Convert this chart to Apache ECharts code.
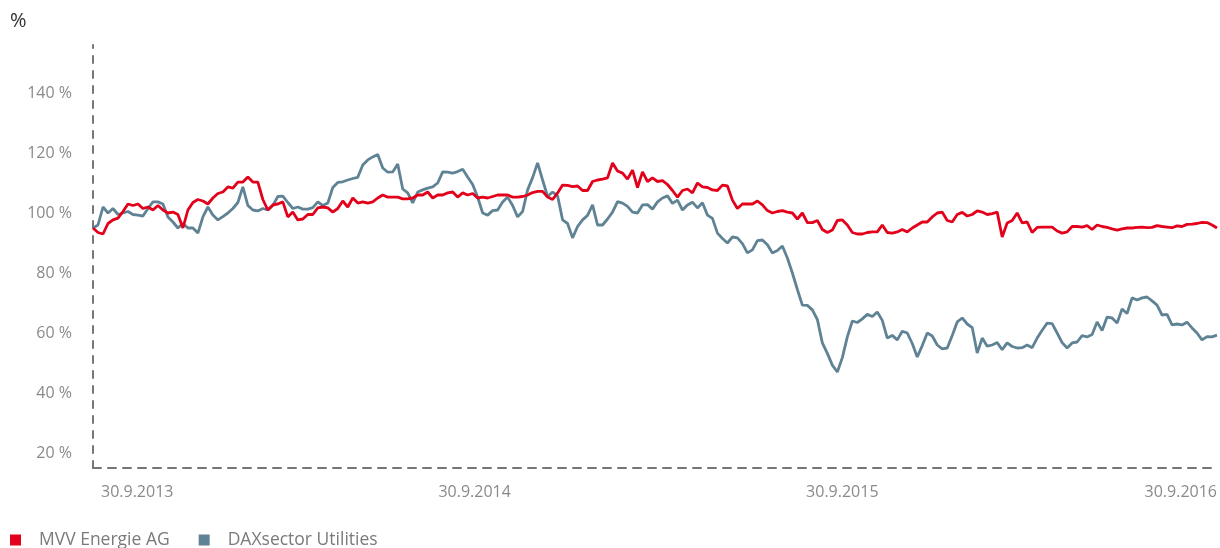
<!doctype html>
<html lang="de">
<head>
	<meta charset="UTF-8">
	<title>MVV Energie AG vs. DAXsector Utilities</title>
	<script src="https://cdnjs.cloudflare.com/ajax/libs/echarts/6.0.0/echarts.min.js"></script>
	<style>
		html, body { margin: 0; padding: 0; background: #fff; }
		#main { width: 1220px; height: 548px; }
	</style>
</head>
<body>
	<div id="main"></div>
	<script type="text/javascript">
		var mvv = [
			95, 93.5, 93, 96.5, 97.7, 98.3, 100.5, 103, 102.5, 103,
			101.5, 102, 101, 102.5, 101, 100, 100.3, 99.5, 95, 101,
			103.5, 104.5, 104, 103, 105, 106.5, 107, 108.7, 108.3, 110.3,
			110.3, 112, 110.3, 110.3, 104.5, 101, 102.7, 103, 103.7, 98.7,
			100.3, 97.7, 98, 99.5, 99.5, 101.7, 102, 101.7, 100.3, 101.5,
			104, 102, 105, 103.3, 103.7, 103.3, 103.7, 105, 106, 105.3,
			105.3, 105.3, 104.7, 104.7, 105, 106, 106, 107, 105, 106,
			106, 106.7, 107, 105.3, 106.7, 106, 106.5, 105, 105.3, 105,
			105.5, 106, 106, 106, 105.3, 105.3, 105.5, 106, 106.8, 107.2,
			107.2, 105.3, 104.5, 106.7, 109.3, 109.2, 108.8, 109, 107.5, 107.5,
			110.5, 111, 111.3, 111.7, 116.7, 114, 113.3, 111.3, 114.3, 108.5,
			113.7, 110.5, 111.7, 110.5, 110.8, 109.5, 107.5, 105.3, 107.5, 108,
			106.7, 110, 108.7, 108.5, 107.7, 107.5, 109.3, 109, 104.3, 101.5,
			103, 103, 103, 104, 102.7, 100.8, 100, 100.5, 100.8, 100.3,
			100, 98, 100, 96.8, 96.8, 97.5, 94.5, 93.5, 94.3, 97.5,
			97.7, 96, 93.5, 93, 93, 93.5, 93.7, 93.7, 96, 93.5,
			93.3, 93.7, 94.5, 93.7, 95, 96, 97, 97, 98.7, 100,
			100.3, 97.5, 97, 99.5, 100.2, 99, 99.5, 100.7, 100.3, 99.5,
			99.8, 100.3, 92, 96.7, 97.5, 100, 96.7, 97, 93.5, 95.2,
			95.3, 95.3, 95.3, 94, 93.3, 93.7, 95.5, 95.5, 95.3, 95.8,
			94.5, 96, 95.5, 95.2, 94.7, 94.3, 94.7, 95, 95, 95.2,
			95.3, 95.1, 95.2, 95.8, 95.5, 95.3, 95.1, 95.7, 95.5, 96.2,
			96.3, 96.5, 96.9, 96.8, 96, 95
		];
		var dax = [
			95, 96, 102, 100, 101.5, 99.5, 100, 100.5, 99.5, 99.3,
			99, 101.5, 103.7, 103.7, 103, 98.7, 97, 95, 96.5, 95,
			95, 93.3, 98.7, 102, 99.3, 97.7, 98.8, 100, 101.5, 103.5,
			108.7, 102.5, 101, 100.7, 101.5, 101, 102.5, 105.5, 105.6, 103.5,
			101.5, 102, 101.3, 101.3, 101.8, 103.7, 102.5, 103.3, 108.5, 110.2,
			110.4, 111, 111.5, 111.9, 116, 117.7, 118.7, 119.5, 115, 113.6,
			113.7, 116.3, 108, 106.7, 103.4, 107, 107.7, 108.3, 108.7, 110,
			113.7, 113.6, 113.3, 113.8, 114.6, 112, 109.5, 105.3, 100, 99.3,
			100.8, 101, 103.7, 105.3, 102.5, 98.7, 100.5, 107.7, 111.8, 116.7,
			111, 105.5, 107, 105.7, 97.7, 96.5, 91.7, 95.5, 97.7, 99.2,
			102.7, 96, 96, 98, 100.3, 103.8, 103.3, 102.2, 100.3, 100,
			102.7, 102.8, 101.3, 103.7, 105, 105.7, 103.2, 104.3, 101, 102.7,
			103.6, 101.7, 103.4, 99.3, 98.2, 93.3, 91.5, 90, 92, 91.7,
			89.8, 86.7, 87.7, 90.8, 91, 89.4, 86.7, 87.5, 89, 85,
			80, 74.5, 69.3, 69.2, 67.7, 64.5, 56.7, 53.2, 49.3, 47,
			51.8, 58.7, 64, 63.5, 64.7, 66.2, 65.5, 67, 64.2, 58.3,
			59.2, 57.7, 60.6, 60, 56.5, 52, 55.8, 60, 59, 56,
			54.7, 55, 59.2, 63.7, 65, 63, 61.8, 53.3, 58.3, 55.6,
			56, 56.8, 54.4, 56.7, 55.5, 55, 55.1, 56, 55.1, 58.3,
			60.9, 63.3, 63.1, 60, 56.8, 55, 56.7, 57, 59.1, 58.7,
			59.5, 63.7, 60.8, 65.3, 65, 63.3, 68, 66.5, 71.7, 71,
			71.7, 72, 70.7, 69.3, 66, 66.2, 62.7, 63, 62.7, 63.6,
			61.7, 60, 57.7, 58.8, 58.7, 59.3
		];
		var weeks = mvv.map(function (v, i) { return i; });
		var tickIndex = [0, 75, 150, 225];
		var tickLabels = ['30.9.2013', '30.9.2014', '30.9.2015', '30.9.2016'];
		var yLabels = [20, 40, 60, 80, 100, 120, 140];

		var red = '#e3001b', blue = '#5f8394';
		var axisColor = '#767676', labelColor = '#8a8a8a';

		var myChart = echarts.init(document.getElementById('main'));

		option = {
			animation: false,
			title: {
				text: '%',
				left: 5,
				top: 6,
				textStyle: { fontFamily: 'Open Sans', fontSize: 20, fontWeight: 'normal', color: '#333' }
			},
			legend: {
				left: 10,
				top: 530,
				padding: 0,
				itemWidth: 11,
				itemHeight: 11,
				itemGap: 29,
				icon: 'rect',
				textStyle: {
					fontFamily: 'Open Sans', fontSize: 17.5, color: '#7a7a7a',
					lineHeight: 20, padding: [0, 0, 0, 13]
				},
				data: ['MVV Energie AG', 'DAXsector Utilities']
			},
			grid: { left: 93, right: 0, top: 45, bottom: 80 },
			xAxis: {
				type: 'category',
				data: weeks,
				boundaryGap: false,
				axisLine: { show: true, onZero: false, lineStyle: { color: axisColor, width: 2, type: [8, 7] } },
				axisTick: { show: false },
				splitLine: { show: false },
				axisLabel: {
					margin: 16,
					fontFamily: 'Open Sans',
					fontSize: 16,
					color: labelColor,
					alignMinLabel: 'left',
					alignMaxLabel: 'right',
					interval: function (index) { return tickIndex.indexOf(index) >= 0; },
					formatter: function (value, index) {
						var k = tickIndex.indexOf(Number(value));
						if (k === 0) return '{first|' + tickLabels[k] + '}';
						if (k === 1) return '{mid|' + tickLabels[k] + '}';
						return k >= 0 ? tickLabels[k] : '';
					},
					rich: {
						first: { padding: [0, 0, 0, 8], fontFamily: 'Open Sans', fontSize: 16, color: labelColor },
						mid: { padding: [0, 0, 0, 14], fontFamily: 'Open Sans', fontSize: 16, color: labelColor }
					}
				}
			},
			yAxis: {
				type: 'value',
				min: 15,
				max: 156,
				axisLine: { show: true, lineStyle: { color: axisColor, width: 2, type: [7, 8] } },
				axisTick: { show: false },
				splitLine: { show: false },
				axisLabel: {
					customValues: yLabels,
					margin: 21,
					fontFamily: 'Open Sans',
					fontSize: 16,
					color: labelColor,
					formatter: function (v) { return v + ' %'; }
				}
			},
			series: [
				{
					name: 'MVV Energie AG',
					type: 'line',
					data: mvv,
					showSymbol: false,
					z: 3,
					itemStyle: { color: red },
					lineStyle: { color: red, width: 2.8 }
				},
				{
					name: 'DAXsector Utilities',
					type: 'line',
					data: dax,
					showSymbol: false,
					z: 2,
					itemStyle: { color: blue },
					lineStyle: { color: blue, width: 2.8 }
				}
			]
		};
		myChart.setOption(option);
		window.onresize = () => myChart.resize();
	</script>
</body>
</html>
